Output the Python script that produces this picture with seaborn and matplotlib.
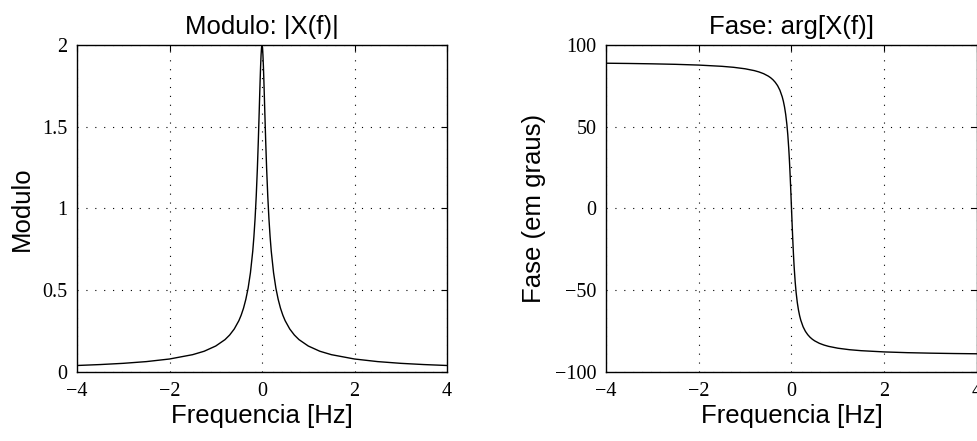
import matplotlib.pyplot as plt
import pandas as pd
import seaborn as sns

# Frequency samples [Hz] (positive half; curves are symmetric / antisymmetric)
freq_pos = [0.0, 0.01, 0.02, 0.03, 0.04, 0.05, 0.06, 0.08, 0.10, 0.125, 0.15,
            0.175, 0.2, 0.25, 0.3, 0.35, 0.4, 0.45, 0.5, 0.6, 0.7, 0.8, 1.0,
            1.25, 1.5, 2.0, 2.5, 3.0, 3.5, 4.0]

# Modulus |X(f)|
modulo_pos = [2.0, 1.984, 1.94, 1.872, 1.787, 1.694, 1.597, 1.41, 1.245, 1.074,
              0.937, 0.828, 0.739, 0.607, 0.513, 0.444, 0.39, 0.348, 0.314,
              0.263, 0.226, 0.198, 0.159, 0.127, 0.106, 0.0795, 0.0636, 0.053,
              0.0455, 0.0398]

# Phase in degrees for positive f (negative values)
fase_pos = [0.0, -7.16, -14.11, -20.66, -26.69, -32.14, -37.0, -45.15, -51.49,
            -57.52, -62.05, -65.55, -68.3, -72.34, -75.14, -77.17, -78.75,
            -79.98, -80.96, -82.45, -83.51, -84.32, -85.45, -86.36, -86.96,
            -87.72, -88.18, -88.48, -88.7, -88.86]

freq = [-f for f in freq_pos[:0:-1]] + freq_pos
modulo = modulo_pos[:0:-1] + modulo_pos
fase = [-p for p in fase_pos[:0:-1]] + fase_pos

df = pd.DataFrame({'freq': freq, 'modulo': modulo, 'fase': fase})

sns.set_style('white')
plt.rcParams['font.family'] = ['Liberation Sans', 'DejaVu Sans']
plt.rcParams['text.color'] = 'black'
plt.rcParams['axes.labelcolor'] = 'black'
plt.rcParams['xtick.color'] = 'black'
plt.rcParams['ytick.color'] = 'black'

fig = plt.figure(figsize=(9.78, 4.41), dpi=100)
W, H = 978.0, 441.0
ax1 = fig.add_axes([77 / W, (H - 372) / H, 370 / W, 327 / H])
ax2 = fig.add_axes([606 / W, (H - 372) / H, 371 / W, 327 / H])

sns.lineplot(data=df, x='freq', y='modulo', ax=ax1, color='black', linewidth=1.0)
sns.lineplot(data=df, x='freq', y='fase', ax=ax2, color='black', linewidth=1.0)

settings = [
    (ax1, 'Modulo: |X(f)|', 'Modulo', (0, 2), [0, 0.5, 1, 1.5, 2], ['0', '0.5', '1', '1.5', '2']),
    (ax2, 'Fase: arg[X(f)]', 'Fase (em graus)', (-100, 100), [-100, -50, 0, 50, 100],
     ['\u2212100', '\u221250', '0', '50', '100']),
]

for ax, title, ylabel, ylim, yticks, yticklabels in settings:
    ax.set_xlim(-4, 4)
    ax.set_ylim(*ylim)
    ax.set_xticks([-4, -2, 0, 2, 4])
    ax.set_xticklabels(['\u22124', '\u22122', '0', '2', '4'])
    ax.set_yticks(yticks)
    ax.set_yticklabels(yticklabels)
    ax.set_title(title, fontsize=18.5, pad=8, color='black')
    ax.set_xlabel('Frequencia [Hz]', fontsize=18.5, labelpad=2)
    ax.set_ylabel(ylabel, fontsize=18.5, labelpad=6)
    ax.grid(True, color='black', linestyle=(0, (1, 7)), linewidth=0.8)
    ax.tick_params(direction='in', length=4, width=0.8, top=True, right=True,
                   labelsize=14.5, pad=7, colors='black')
    for lab in ax.get_xticklabels() + ax.get_yticklabels():
        lab.set_fontfamily('Liberation Serif')
    for sp in ax.spines.values():
        sp.set_visible(True)
        sp.set_color('black')
        sp.set_linewidth(1.0)

fig.savefig('out.png', dpi=100)
